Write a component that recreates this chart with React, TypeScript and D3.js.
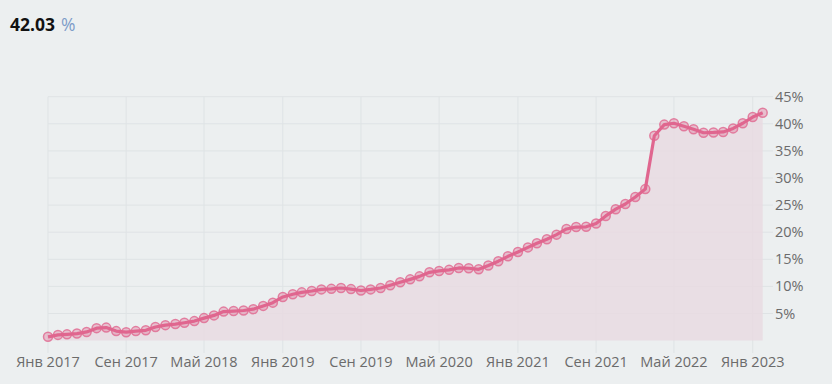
import * as d3 from 'd3';

// monthly values, Jan 2017 .. Feb 2023 (%)
const startMonth = new Date(2017, 0, 1);
const values = [
  0.7, 1.05, 1.15, 1.3, 1.6, 2.3, 2.4, 1.75, 1.55, 1.75, 1.9, 2.5,
  2.85, 3.05, 3.3, 3.6, 4.15, 4.65, 5.35, 5.45, 5.55, 5.8, 6.4, 7.0,
  8.05, 8.55, 8.9, 9.15, 9.45, 9.55, 9.7, 9.5, 9.25, 9.45, 9.7, 10.2,
  10.75, 11.3, 11.85, 12.6, 12.85, 13.05, 13.4, 13.35, 13.15, 13.85, 14.65, 15.55,
  16.35, 17.2, 17.95, 18.7, 19.55, 20.6, 20.95, 21.0, 21.6, 23.0, 24.25, 25.2,
  26.5, 27.95, 37.8, 39.85, 40.1, 39.55, 39.0, 38.35, 38.4, 38.5, 39.15, 40.1,
  41.25, 42.03,
];
const xTickLabels = [
  'Янв 2017', 'Сен 2017', 'Май 2018', 'Янв 2019', 'Сен 2019',
  'Май 2020', 'Янв 2021', 'Сен 2021', 'Май 2022', 'Янв 2023',
];
const yTicks = [5, 10, 15, 20, 25, 30, 35, 40, 45];
const currentValue = '42.03';

const width = 832;
const height = 384;
const font = '"Open Sans", "Noto Sans", sans-serif';

export default function App() {
  const data = values.map((v, i) => ({ date: d3.timeMonth.offset(startMonth, i), value: v }));
  const lastDate = data[data.length - 1].date;

  const x = d3.scaleTime().domain([startMonth, lastDate]).range([48, 762.7]);
  const y = d3.scaleLinear().domain([0, 45]).range([340.6, 96.7]);

  const tickDates = xTickLabels.map((_, i) => d3.timeMonth.offset(startMonth, i * 8));

  const line = d3.line<{ date: Date; value: number }>()
    .x(d => x(d.date))
    .y(d => y(d.value));
  const area = d3.area<{ date: Date; value: number }>()
    .x(d => x(d.date))
    .y0(y(0))
    .y1(d => y(d.value));

  const gridColor = '#dfe3e5';
  const pink = '#e0668f';

  return (
    <svg width={width} height={height} style={{ position: 'absolute', left: 0, top: 0 }}>
      <rect width={width} height={height} fill="#eceff0" />

      <text x={10} y={31} fontFamily={font} fontSize={17.5}>
        <tspan fontWeight="bold" fill="#111">{currentValue}</tspan>
        <tspan fill="#7d9cc8" dx={6}>%</tspan>
      </text>

      {/* grid */}
      {yTicks.map(t => (
        <line key={t} x1={48} x2={773} y1={y(t)} y2={y(t)} stroke={gridColor} strokeWidth={1} />
      ))}
      {tickDates.map((d, i) => (
        <line key={i} x1={x(d)} x2={x(d)} y1={y(45)} y2={353} stroke={gridColor} strokeWidth={1} />
      ))}

      <path d={area(data) ?? ''} fill="#e9d9e1" fillOpacity={0.8} />
      <path d={line(data) ?? ''} fill="none" stroke={pink} strokeWidth={3.2} strokeLinejoin="round" />
      {data.map((d, i) => (
        <circle
          key={i}
          cx={x(d.date)}
          cy={y(d.value)}
          r={4.5}
          fill={pink}
          fillOpacity={0.35}
          stroke={pink}
          strokeOpacity={0.8}
          strokeWidth={1.5}
        />
      ))}

      {/* axes labels */}
      {yTicks.map(t => (
        <text key={t} x={775} y={y(t)} dy="0.35em" fontFamily={font} fontSize={14.5} fill="#6b6b6b">
          {t}%
        </text>
      ))}
      {tickDates.map((d, i) => (
        <text key={i} x={x(d)} y={367} textAnchor="middle" fontFamily={font} fontSize={14.5} fill="#6b6b6b">
          {xTickLabels[i]}
        </text>
      ))}
    </svg>
  );
}
